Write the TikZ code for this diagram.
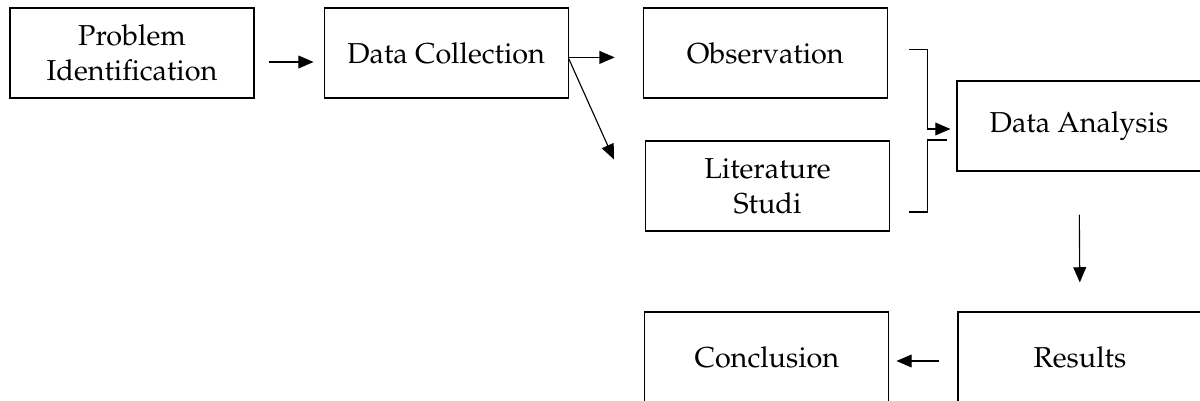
\documentclass[tikz,border=0pt]{standalone}
\usepackage[T1]{fontenc}
\usepackage{mathpazo}
\usepackage{tikz}
\usetikzlibrary{arrows.meta,positioning}

\begin{document}
\begin{tikzpicture}[
  box/.style={draw=black,line width=0.8pt,minimum height=2.25cm,
  minimum width=6.1cm,align=center,font=\fontsize{20.5}{25}\selectfont,inner sep=0pt},
  arr/.style={-{Triangle[length=3.8mm,width=3.2mm]},black,line width=0.8pt},
  lnk/.style={black,line width=0.8pt}]
\useasboundingbox (0,0) rectangle (30,-10.025);
\node[box] (prob) at (3.3,-1.325) {Problem\\Identification};
\node[box,right=1.725cm of prob] (coll) {Data Collection};
\node[box,right=1.85cm of coll] (obs) {Observation};
\node[box] (lit) at (19.1875,-4.65) {Literature\\Studi};
\node[box] (anal) at (26.975,-3.15) {Data Analysis};
\node[box] (res) at (27.0,-8.925) {Results};
\node[box,left=1.7cm of res] (conc) {Conclusion};
\coordinate (littip) at ([xshift=-0.775cm,yshift=-0.475cm]lit.north west);
\draw[arr,shorten <=0.35cm,shorten >=0.25cm] ([yshift=-0.225cm]prob.east) -- ([yshift=-0.225cm]coll.west);
\draw[arr,shorten >=0.7cm] ([yshift=-0.11cm]coll.east) -- ([yshift=-0.11cm]obs.west);
\draw[arr] ([yshift=-0.14cm]coll.east) -- (littip);
\draw[arr] ([xshift=0.525cm,yshift=0.09cm]obs.east) -| ([xshift=-0.725cm,yshift=-0.075cm]anal.west)
  -- ([xshift=-0.15cm,yshift=-0.075cm]anal.west);
\draw[lnk] ([xshift=0.475cm,yshift=-0.65cm]lit.east) -| ([xshift=-0.725cm,yshift=-0.35cm]anal.west)
  -- ([xshift=-0.225cm,yshift=-0.35cm]anal.west);
\draw[arr,shorten <=1.075cm,shorten >=0.725cm] (anal.south) -- (res.north);
\draw[arr,shorten <=0.45cm,shorten >=0.175cm] ([yshift=-0.1cm]res.west) -- ([yshift=-0.1cm]conc.east);
\end{tikzpicture}
\end{document}
